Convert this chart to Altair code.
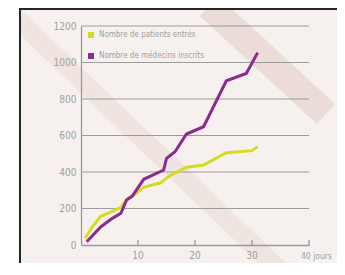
import altair as alt
import pandas as pd

series_names = ["Nombre de patients entrés", "Nombre de médecins inscrits"]
series_colors = ["#d3dc22", "#8c2a8d"]

patients_days = [0.7, 2, 3.5, 5, 7, 8, 9.5, 11, 14, 15.5, 18.5, 21.5, 25.5, 30, 31]
patients_vals = [37, 100, 159, 177, 206, 250, 279, 316, 341, 378, 426, 438, 506, 517, 539]

medecins_days = [1, 3.5, 5.5, 7, 8, 9, 11, 14.5, 15, 16.5, 18.5, 21.5, 25.5, 29, 31]
medecins_vals = [18, 100, 146, 174, 247, 268, 360, 411, 475, 511, 608, 648, 900, 940, 1054]

x_ticks = [10, 20, 30, 40]
x_labels = ["10", "20", "30", "40 jours"]
y_ticks = [0, 200, 400, 600, 800, 1000, 1200]

FONT = "DejaVu Sans Condensed"
GRAY = "#a0a0a0"
AXC = "#9a9a9a"
BG = "#f6f1ef"
W, H = 228, 219

rows = []
for d, v in zip(patients_days, patients_vals):
    rows.append({"jour": d, "valeur": v, "serie": series_names[0]})
for d, v in zip(medecins_days, medecins_vals):
    rows.append({"jour": d, "valeur": v, "serie": series_names[1]})
df = pd.DataFrame(rows)

one = pd.DataFrame({"a": [0]})

band1 = alt.Chart(one).mark_rule(color="#efe4e0", strokeWidth=19, strokeCap="butt").encode(
    x=alt.value(-66), y=alt.value(-9), x2=alt.value(210), y2=alt.value(255)
)
band2 = alt.Chart(one).mark_rule(color="#ecdcd7", strokeWidth=27, strokeCap="butt").encode(
    x=alt.value(128), y=alt.value(-20), x2=alt.value(245), y2=alt.value(88)
)
white_strip = alt.Chart(one).mark_rect(fill="white").encode(
    x=alt.value(-80), x2=alt.value(-61), y=alt.value(-30), y2=alt.value(H + 60)
)
border_left = alt.Chart(one).mark_rule(color="#262626", strokeWidth=2).encode(
    x=alt.value(-61), y=alt.value(-18), y2=alt.value(H + 60)
)
border_top = alt.Chart(one).mark_rule(color="#262626", strokeWidth=2).encode(
    x=alt.value(-62), x2=alt.value(W + 60), y=alt.value(-17)
)

xscale = alt.Scale(domain=[0, 40], nice=False)
yscale = alt.Scale(domain=[0, 1200], nice=False)

x_axis = alt.Axis(values=x_ticks, grid=False, ticks=False, labels=False, zindex=1,
                  domainColor=AXC, domainWidth=1.3, title=None)
y_axis = alt.Axis(values=y_ticks, grid=False, ticks=False, zindex=1, format="d",
                  labelOverlap=False, domainColor=AXC, domainWidth=1.3,
                  labelFont=FONT, labelFontSize=10, labelColor=GRAY, labelPadding=5,
                  title=None)

grid_df = pd.DataFrame({"g": y_ticks[1:]})
grid = alt.Chart(grid_df).mark_rule(color="#9c9c9c", strokeWidth=1.2).encode(
    y=alt.Y("g:Q", scale=yscale, axis=y_axis), x=alt.value(0), x2=alt.value(W)
)

lines = alt.Chart(df).mark_line(strokeWidth=3).encode(
    x=alt.X("jour:Q", scale=xscale, axis=x_axis),
    y=alt.Y("valeur:Q", scale=yscale, axis=y_axis),
    color=alt.Color("serie:N", scale=alt.Scale(domain=series_names, range=series_colors),
                    sort=series_names,
                    legend=alt.Legend(orient="none", legendX=6, legendY=5, title=None,
                                      symbolType="square", symbolSize=4, symbolStrokeWidth=4,
                                      labelFont=FONT, labelFontSize=8, labelColor=GRAY,
                                      rowPadding=3, labelOffset=4)),
    detail="serie:N",
)

tick_df = pd.DataFrame({"t": x_ticks, "label": x_labels})
xticks = alt.Chart(tick_df).mark_rule(color=AXC, strokeWidth=1.3).encode(
    x=alt.X("t:Q", scale=xscale, axis=x_axis), y=alt.value(H - 5), y2=alt.value(H)
)
xlab_mid = alt.Chart(tick_df.iloc[:3]).mark_text(
    font=FONT, fontSize=10, color=GRAY, baseline="top", align="center"
).encode(x=alt.X("t:Q", scale=xscale, axis=x_axis), y=alt.value(H + 6), text="label:N")
xlab_end = alt.Chart(tick_df.iloc[3:]).mark_text(
    font=FONT, fontSize=8.5, color=GRAY, baseline="top", align="left", dx=-8
).encode(x=alt.X("t:Q", scale=xscale, axis=x_axis), y=alt.value(H + 7), text="label:N")

chart = alt.layer(band1, band2, white_strip, border_left, border_top, grid, xticks,
                  lines, xlab_mid, xlab_end).properties(
    width=W, height=H,
    autosize=alt.AutoSizeParams(type="none"),
    padding={"left": 73, "top": 18, "right": 28, "bottom": 18},
    background=BG,
).configure_view(stroke=None)

chart.save("out.html", embed_options={"renderer": "svg", "actions": False})
